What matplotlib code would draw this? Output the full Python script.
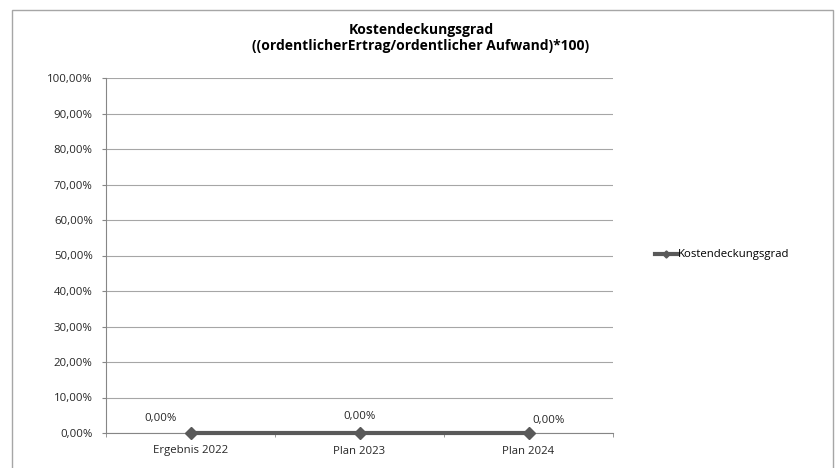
import matplotlib
matplotlib.use("Agg")
import matplotlib.pyplot as plt
from matplotlib.patches import Rectangle
from matplotlib.ticker import FuncFormatter, MultipleLocator

categories = ["Ergebnis 2022", "Plan 2023", "Plan 2024"]
values = [0.0, 0.0, 0.0]
series_name = "Kostendeckungsgrad"
title = "Kostendeckungsgrad\n((ordentlicherErtrag/ordentlicher Aufwand)*100)"

plt.rcParams['font.family'] = ['Open Sans', 'DejaVu Sans']
small = 8.2

fig = plt.figure(figsize=(8.4, 4.68), dpi=100)
fig.patches.append(Rectangle((12/840, -0.01), (833-12)/840, (468-10)/468 + 0.01,
                             transform=fig.transFigure, fill=False,
                             edgecolor="#a6a6a6", linewidth=1.0))
ax = fig.add_axes([106/840, 35/468, (613-106)/840, (433-78)/468])

x = list(range(len(categories)))
line_color = "#595959"
ax.plot(x, values, color=line_color, linewidth=3, marker="D", markersize=6,
        label=series_name, zorder=3, clip_on=False)

offsets = [(-30, 14), (0, 16), (20, 13)]
for xi, v, off in zip(x, values, offsets):
    ax.annotate(f"{v:.2f}".replace(".", ",") + "%", (xi, v), xytext=off,
                textcoords="offset pixels", ha="center", va="center",
                fontsize=small, color="#262626")

ax.set_xlim(-0.5, len(categories) - 0.5)
ax.set_ylim(0, 100)
ax.yaxis.set_major_locator(MultipleLocator(10))
ax.yaxis.set_major_formatter(FuncFormatter(lambda v, p: f"{v:.2f}".replace(".", ",") + "%"))
ax.set_xticks(x)
ax.set_xticklabels(categories)
ax.set_xticks([i - 0.5 for i in range(len(categories) + 1)], minor=True)
ax.tick_params(axis="x", which="major", length=0, labelsize=small, colors="#262626", pad=9)
ax.tick_params(axis="x", which="minor", length=3, color="#868686")
ax.tick_params(axis="y", length=3, color="#868686", labelsize=small, labelcolor="#262626", pad=6.5)
ax.grid(axis="y", color="#a6a6a6", linewidth=0.8)
ax.set_axisbelow(True)
for s in ["top", "right"]:
    ax.spines[s].set_visible(False)
for s in ["left", "bottom"]:
    ax.spines[s].set_color("#868686")
    ax.spines[s].set_linewidth(0.8)

fig.text(421/840, 1 - 38/468, title, ha="center", va="center", fontsize=10,
         fontweight="bold", color="#000000", linespacing=1.15)

fig.legend(loc="center left", bbox_to_anchor=(655/840, 1 - 255/468), frameon=False,
           fontsize=small, handlelength=2.0, handletextpad=0.0, markerscale=0.6,
           borderpad=0, borderaxespad=0)

fig.savefig("out.png", dpi=100)
